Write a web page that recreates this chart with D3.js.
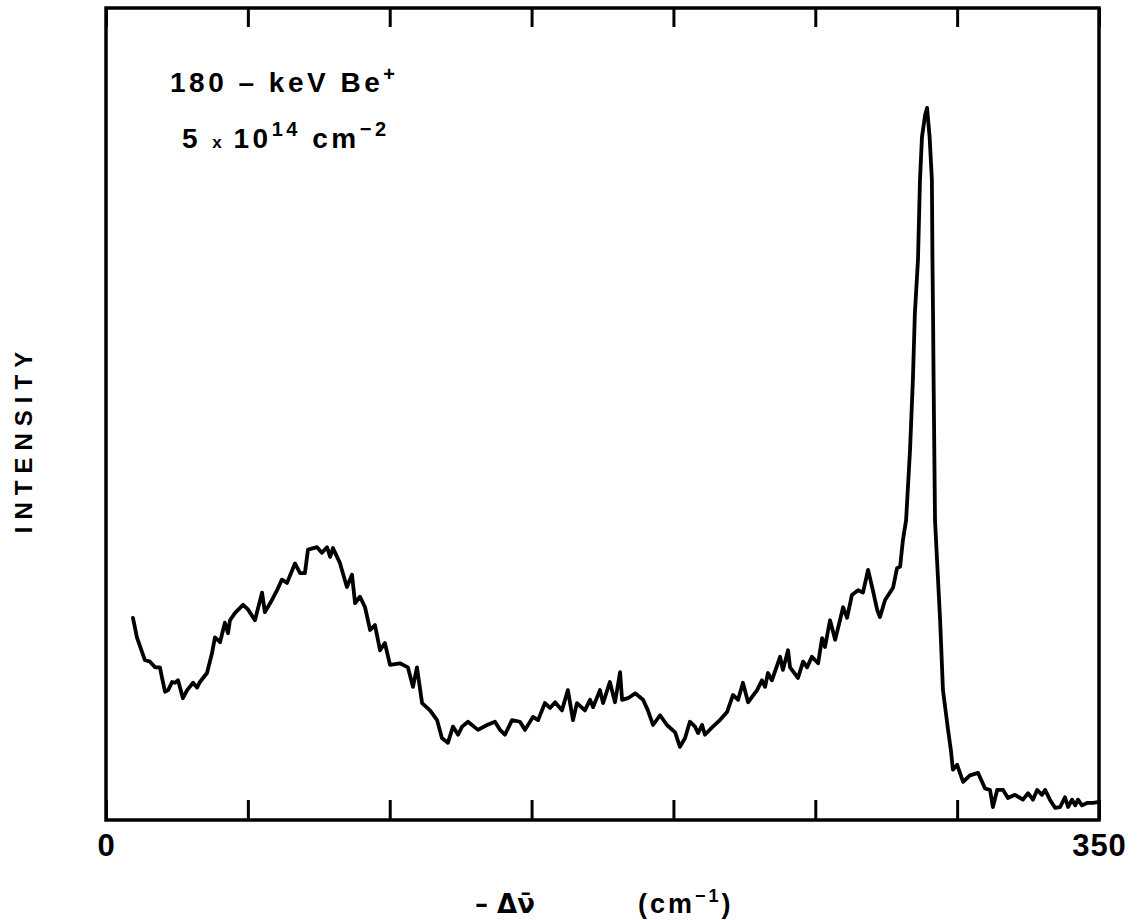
<!DOCTYPE html>
<html>
<head>
<meta charset="utf-8">
<script src="https://cdn.jsdelivr.net/npm/d3@7"></script>
<style>
  body { margin: 0; background: #fff; }
  text { font-family: "Liberation Sans", Arial, sans-serif; font-weight: bold; fill: #000; }
</style>
</head>
<body>
<div id="chart"></div>
<script>
// Raman shift (cm^-1)
var ramanShift = [
  9.5, 10.9, 13.7, 15.5, 17.3, 19.0, 19.7, 20.8, 21.9, 23.3, 24.3, 25.4, 27.1, 28.6, 30.7, 32.1, 33.1, 35.6, 37.4, 38.4,
  40.2, 41.9, 43.0, 43.7, 45.5, 48.3, 50.1, 52.5, 55.0, 56.0, 58.5, 60.3, 62.0, 63.8, 66.6, 68.4, 70.1, 71.2, 74.4, 76.1,
  77.9, 79.0, 80.0, 82.5, 84.9, 86.7, 87.8, 89.5, 91.3, 93.1, 94.8, 96.6, 98.3, 100.1, 103.6, 106.4, 108.2, 109.6, 111.4, 114.2,
  116.7, 118.4, 120.5, 122.3, 124.1, 125.5, 127.6, 131.1, 134.3, 137.1, 138.9, 140.6, 143.1, 145.9, 147.7, 150.5, 152.3, 154.7, 156.5, 158.3,
  160.7, 162.8, 164.6, 166.0, 168.8, 170.6, 171.7, 174.1, 175.2, 177.6, 179.4, 181.2, 181.9, 184.0, 186.5, 189.3, 191.0, 192.8, 195.3, 197.7,
  200.6, 202.3, 204.1, 205.8, 207.6, 208.7, 210.1, 211.1, 213.9, 216.4, 218.9, 221.0, 222.8, 224.5, 226.3, 229.5, 231.2, 232.3, 233.3, 234.7,
  237.6, 238.6, 240.4, 241.1, 243.9, 245.7, 247.1, 248.8, 251.0, 252.4, 253.4, 255.2, 257.0, 258.7, 259.8, 261.2, 262.9, 265.1, 266.8, 268.6,
  270.3, 271.8, 272.8, 274.6, 277.4, 278.8, 279.9, 280.9, 282.0, 283.4, 284.4, 285.1, 286.2, 286.9, 287.6, 288.7, 289.4, 289.7, 290.3, 291.1,
  291.3, 291.5, 291.7, 292.2, 294.0, 295.0, 296.8, 297.8, 298.5, 300.0, 302.1, 304.5, 307.4, 309.8, 311.6, 312.6, 314.1, 316.2, 317.9, 320.4,
  323.2, 325.0, 326.7, 328.2, 329.9, 331.0, 332.7, 334.5, 336.3, 338.0, 339.1, 340.5, 341.6, 342.6, 344.0, 345.8, 347.9, 349.6
];

// Intensity (arbitrary units, 0 = bottom of frame, 100 = top)
var intensity = [
  24.9, 22.5, 19.7, 19.5, 18.8, 18.8, 17.6, 15.8, 16.0, 17.0, 16.9, 17.2, 15.0, 16.0, 16.9, 16.3, 17.0, 18.1, 20.6, 22.5,
  21.9, 24.3, 23.0, 24.6, 25.5, 26.5, 25.9, 24.6, 28.0, 25.6, 27.1, 28.3, 29.6, 29.2, 31.6, 30.4, 30.4, 33.3, 33.6, 32.9,
  33.6, 32.4, 33.5, 31.6, 28.7, 30.2, 26.7, 27.5, 26.2, 23.4, 24.0, 20.9, 21.8, 19.1, 19.3, 18.8, 16.4, 18.8, 14.4, 13.5,
  12.3, 10.1, 9.5, 11.5, 10.5, 11.5, 12.1, 11.1, 11.7, 12.1, 11.1, 10.5, 12.3, 12.1, 11.1, 12.7, 12.3, 14.4, 13.8, 14.5,
  13.5, 16.0, 12.3, 14.4, 13.5, 14.8, 13.9, 16.0, 14.4, 17.0, 14.5, 18.2, 14.8, 15.0, 15.6, 14.8, 13.5, 11.7, 12.9, 11.7,
  10.8, 9.0, 10.1, 12.1, 11.5, 10.7, 11.7, 10.5, 11.5, 12.3, 13.3, 15.4, 14.8, 16.9, 14.5, 16.0, 17.2, 16.4, 18.1, 17.2,
  20.1, 18.5, 20.9, 18.8, 17.5, 19.5, 18.8, 20.1, 19.3, 22.4, 21.3, 24.6, 22.2, 24.6, 26.2, 24.9, 27.7, 28.3, 28.0, 30.8,
  28.3, 25.9, 25.0, 27.1, 28.6, 31.0, 31.2, 34.5, 36.9, 45.6, 54.2, 62.4, 69.0, 78.8, 84.1, 86.8, 87.7, 86.5, 84.1, 78.8,
  69.0, 62.4, 54.2, 36.9, 24.6, 16.0, 11.1, 8.6, 6.2, 6.8, 4.7, 5.5, 5.8, 3.9, 3.7, 1.6, 3.7, 3.7, 2.7, 3.1,
  2.5, 3.3, 2.5, 3.7, 3.1, 3.7, 2.5, 1.5, 1.6, 2.8, 1.6, 2.5, 1.8, 2.5, 1.8, 2.1, 2.1, 2.2
];

var tickValues = [0, 50, 100, 150, 200, 250, 300, 350];
var tickLabels = ["0", "350"];

var svgWidth = 1143;
var svgHeight = 920;

var chartMargin = { top: 8, right: 44, bottom: 100, left: 106 };
var chartWidth = svgWidth - chartMargin.left - chartMargin.right;
var chartHeight = svgHeight - chartMargin.top - chartMargin.bottom;

var svg = d3.select("#chart")
  .append("svg")
  .attr("width", svgWidth)
  .attr("height", svgHeight);

var chartGroup = svg.append("g")
  .attr("transform", `translate(${chartMargin.left}, ${chartMargin.top})`);

var xScale = d3.scaleLinear().domain([0, 350]).range([0, chartWidth]);
var yScale = d3.scaleLinear().domain([0, 100]).range([chartHeight, 0]);

// frame
chartGroup.append("rect")
  .attr("x", 0).attr("y", 0)
  .attr("width", chartWidth).attr("height", chartHeight)
  .attr("fill", "none")
  .attr("stroke", "#000")
  .attr("stroke-width", 3.5);

// bottom axis: inward ticks, labels only at the ends
var bottomAxis = d3.axisBottom(xScale)
  .tickValues(tickValues)
  .tickSize(-20)
  .tickSizeOuter(0)
  .tickPadding(14)
  .tickFormat(function (d) {
    var s = String(d);
    return tickLabels.indexOf(s) >= 0 ? s : "";
  });

var bottomG = chartGroup.append("g")
  .attr("transform", `translate(0, ${chartHeight})`)
  .call(bottomAxis);
bottomG.select(".domain").remove();
bottomG.selectAll("line").attr("stroke", "#000").attr("stroke-width", 3);
bottomG.selectAll("text")
  .style("font-family", "'Liberation Sans', Arial, sans-serif")
  .style("font-weight", "bold")
  .style("font-size", "31px")
  .style("letter-spacing", "1px")
  .attr("fill", "#000");

var topAxis = d3.axisTop(xScale)
  .tickValues(tickValues)
  .tickSize(-19)
  .tickSizeOuter(0)
  .tickFormat("");

var topG = chartGroup.append("g").call(topAxis);
topG.select(".domain").remove();
topG.selectAll("line").attr("stroke", "#000").attr("stroke-width", 3);

// spectrum trace
var points = ramanShift.map(function (d, i) { return [d, intensity[i]]; });
var line = d3.line()
  .x(function (d) { return xScale(d[0]); })
  .y(function (d) { return yScale(d[1]); });

chartGroup.append("path")
  .datum(points)
  .attr("d", line)
  .attr("fill", "none")
  .attr("stroke", "#000")
  .attr("stroke-width", 3.8)
  .attr("stroke-linejoin", "round")
  .attr("stroke-linecap", "round");

// annotation
var note1 = svg.append("text")
  .attr("x", 170).attr("y", 92)
  .style("font-size", "28px")
  .style("letter-spacing", "3.5px");
note1.append("tspan").text("180 – keV  Be");
note1.append("tspan").attr("dy", -11).style("font-size", "20px").text("+");

var note2 = svg.append("text")
  .attr("x", 182).attr("y", 148)
  .style("font-size", "28px")
  .style("letter-spacing", "3.5px");
note2.append("tspan").text("5 ");
note2.append("tspan").style("font-size", "17px").text("x ");
note2.append("tspan").text("10");
note2.append("tspan").attr("dy", -12).style("font-size", "20px").text("14");
note2.append("tspan").attr("dy", 12).text(" cm");
note2.append("tspan").attr("dy", -12).style("font-size", "20px").text("−2");

// y axis label
svg.append("text")
  .attr("transform", "translate(32, 439) rotate(-90)")
  .attr("text-anchor", "middle")
  .style("font-size", "24px")
  .style("letter-spacing", "7px")
  .text("INTENSITY");

// x axis label
svg.append("text")
  .attr("x", 475).attr("y", 913)
  .style("font-family", "'DejaVu Sans', sans-serif")
  .style("font-size", "26px")
  .text("–  Δν\u0304");

var xUnit = svg.append("text")
  .attr("x", 638).attr("y", 913)
  .style("font-size", "27px")
  .style("letter-spacing", "3px");
xUnit.append("tspan").text("(cm");
xUnit.append("tspan").attr("dy", -11).style("font-size", "18px").text("−1");
xUnit.append("tspan").attr("dy", 11).text(")");
</script>
</body>
</html>
